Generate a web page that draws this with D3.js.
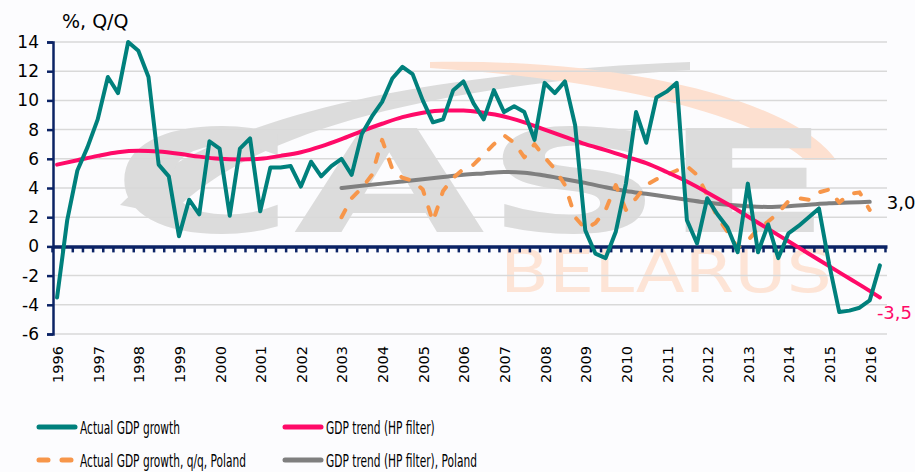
<!DOCTYPE html>
<html>
<head>
<meta charset="utf-8">
<script src="https://cdn.jsdelivr.net/npm/d3@7"></script>
<style>
  html, body { margin: 0; padding: 0; background: #fcfcfe; }
  svg { display: block; font-family: "DejaVu Sans", Verdana, sans-serif; }
</style>
</head>
<body>
<div id="chart"></div>
<script>
// Belarus quarterly GDP growth (1996Q1 .. 2016Q2), index = quarter number
const gdpActual = [
  -3.5, 1.8, 5.2, 6.8, 8.7, 11.6, 10.5, 14.0, 13.4, 11.6,
  5.6, 4.8, 0.7, 3.2, 2.2, 7.2, 6.7, 2.1, 6.7, 7.4,
  2.4, 5.4, 5.4, 5.5, 4.1, 5.8, 4.8, 5.5, 6.0, 4.9,
  7.7, 8.9, 9.9, 11.5, 12.3, 11.8, 10.0, 8.5, 8.7, 10.7,
  11.3, 9.8, 8.7, 10.7, 9.2, 9.6, 9.2, 7.3, 11.2, 10.5,
  11.3, 8.3, 1.1, -0.5, -0.8, 1.0, 4.3, 9.2, 7.1, 10.2,
  10.6, 11.2, 1.8, 0.2, 3.3, 2.2, 1.3, -0.4, 4.3, -0.4,
  1.5, -0.8, 0.9, 1.4, 2.0, 2.6, -1.2, -4.5, -4.4, -4.2,
  -3.7, -1.3
];

// HP trend, Belarus (read every second quarter)
const trendQuarters = [0, 2, 4, 6, 8, 10, 12, 14, 16, 18, 20, 22, 24, 26, 28, 30, 32, 34, 36, 38,
  40, 42, 44, 46, 48, 50, 52, 54, 56, 58, 60, 62, 64, 66, 68, 70, 72, 74, 76, 78, 80, 81];
const gdpTrend = [5.6, 5.9, 6.2, 6.45, 6.55, 6.5, 6.35, 6.15, 6.0, 5.95, 6.0, 6.2, 6.45, 6.85,
  7.35, 7.9, 8.4, 8.85, 9.15, 9.3, 9.3, 9.15, 8.9, 8.5, 8.0, 7.5, 7.0, 6.6, 6.15, 5.7,
  5.1, 4.45, 3.7, 2.9, 2.05, 1.2, 0.35, -0.5, -1.35, -2.2, -3.05, -3.5];

// Poland q/q growth, 2003Q1 (quarter 28) .. 2016Q1 (quarter 80)
const polandStart = 28;
const polandActual = [
  2.0, 3.3, 4.0, 4.9, 7.3, 5.3, 4.7, 4.5, 3.9, 1.7,
  3.8, 4.7, 5.3, 5.6, 6.3, 7.0, 7.6, 7.1, 6.1, 7.0,
  6.1, 5.3, 4.2, 2.0, 1.2, 1.6, 2.5, 4.2, 2.5, 3.3,
  4.2, 4.6, 4.9, 5.2, 5.5, 4.9, 3.5, 2.0, 1.0, -0.1,
  0.4, 1.2, 1.7, 2.3, 3.1, 3.3, 3.2, 3.7, 3.9, 3.0,
  3.6, 3.7, 2.5
];

// HP trend, Poland (every second quarter from 28 to 80)
const polandTrendQuarters = [28, 30, 32, 34, 36, 38, 40, 42, 44, 46, 48, 50, 52, 54, 56, 58,
  60, 62, 64, 66, 68, 70, 72, 74, 76, 78, 80];
const polandTrend = [4.0, 4.15, 4.3, 4.45, 4.6, 4.75, 4.9, 5.0, 5.1, 5.05, 4.85, 4.6, 4.35,
  4.05, 3.8, 3.6, 3.4, 3.2, 3.0, 2.85, 2.75, 2.7, 2.75, 2.85, 2.95, 3.0, 3.05];

const years = d3.range(1996, 2017);
const yTicks = [-6, -4, -2, 0, 2, 4, 6, 8, 10, 12, 14];

const legendItems = [
  { label: 'Actual GDP growth', color: '#00807c', dash: null },
  { label: 'GDP trend (HP filter)', color: '#ff0a68', dash: null },
  { label: 'Actual GDP growth, q/q, Poland', color: '#f7964a', dash: '8 14' },
  { label: 'GDP trend (HP filter), Poland', color: '#7f7f7f', dash: null }
];

const width = 915, height = 472;

const x = d3.scaleLinear().domain([-0.4, 81.7]).range([53, 887]);
const y = d3.scaleLinear().domain([-6, 14]).range([334, 42]);

const svg = d3.select('#chart')
  .append('svg')
  .attr('width', width)
  .attr('height', height);

// watermark (CASE Belarus logo)
const wm = svg.append('g').attr('class', 'watermark');
wm.append('path')
  .attr('d', 'M120,205 C210,115 430,72 690,62 L690,70 C460,84 260,122 170,215 Z')
  .attr('fill', '#dcdcdc');
wm.append('path')
  .attr('d', 'M430,62 C610,58 790,96 836,160 L805,160 C755,116 620,80 430,68 Z')
  .attr('fill', '#fde0d0');
wm.append('text')
  .attr('x', 112).attr('y', 232)
  .attr('textLength', 720)
  .attr('lengthAdjust', 'spacingAndGlyphs')
  .attr('font-size', 142)
  .attr('font-weight', 'bold')
  .attr('fill', '#dcdcdc')
  .text('CASE');
wm.append('text')
  .attr('x', 500).attr('y', 292)
  .attr('textLength', 332)
  .attr('lengthAdjust', 'spacingAndGlyphs')
  .attr('font-size', 58)
  .attr('fill', '#fde4d6')
  .text('BELARUS');

// gridlines
svg.append('g')
  .selectAll('line')
  .data(yTicks.filter(d => d !== 0))
  .join('line')
  .attr('x1', 53).attr('x2', 887)
  .attr('y1', d => y(d)).attr('y2', d => y(d))
  .attr('stroke', '#d9d9d9')
  .attr('stroke-width', 1.5);

// y axis
const yAxis = svg.append('g')
  .attr('transform', 'translate(53,0)')
  .call(d3.axisLeft(y).tickValues(yTicks).tickSize(6).tickPadding(8).tickFormat(d3.format('d')));
yAxis.select('.domain').attr('stroke', '#0b2365').attr('stroke-width', 2.5);
yAxis.selectAll('.tick line').attr('stroke', '#0b2365').attr('stroke-width', 2.5);
yAxis.selectAll('.tick text')
  .attr('font-size', 17)
  .attr('font-family', '"DejaVu Sans", sans-serif')
  .attr('fill', '#000')
  .text(d => d < 0 ? '-' + Math.abs(d) : d);

// zero line with quarter ticks
const xAxis = svg.append('g')
  .attr('transform', `translate(0,${y(0)})`)
  .call(d3.axisBottom(x).tickValues(d3.range(-0.5, 82, 1)).tickSize(6).tickSizeOuter(0).tickFormat(''));
xAxis.select('.domain').attr('stroke', '#0b2365').attr('stroke-width', 3.5);
xAxis.selectAll('.tick line').attr('stroke', '#0b2365').attr('stroke-width', 2.5);

// year labels
svg.append('g')
  .selectAll('text')
  .data(years)
  .join('text')
  .attr('transform', d => `translate(${x((d - 1996) * 4) + 6},346) rotate(-90)`)
  .attr('text-anchor', 'end')
  .attr('font-size', 14.5)
  .text(d => d);

// axis title
svg.append('text')
  .attr('x', 62).attr('y', 28)
  .attr('font-size', 19)
  .text('%, Q/Q');

// series
const lineQ = d3.line().x(d => x(d[0])).y(d => y(d[1]));
const smooth = d3.line().x(d => x(d[0])).y(d => y(d[1])).curve(d3.curveMonotoneX);

const series = [
  { pts: polandTrendQuarters.map((q, i) => [q, polandTrend[i]]), gen: smooth, item: legendItems[3] },
  { pts: polandActual.map((v, i) => [polandStart + i, v]), gen: lineQ, item: legendItems[2] },
  { pts: trendQuarters.map((q, i) => [q, gdpTrend[i]]), gen: smooth, item: legendItems[1] },
  { pts: gdpActual.map((v, i) => [i, v]), gen: lineQ, item: legendItems[0] }
];

svg.append('g')
  .selectAll('path')
  .data(series)
  .join('path')
  .attr('d', d => d.gen(d.pts))
  .attr('fill', 'none')
  .attr('stroke', d => d.item.color)
  .attr('stroke-width', 4)
  .attr('stroke-linejoin', 'round')
  .attr('stroke-linecap', 'round')
  .attr('stroke-dasharray', d => d.item.dash);

// end labels
svg.append('text')
  .attr('x', x(polandTrendQuarters[polandTrendQuarters.length - 1]) + 17)
  .attr('y', y(polandTrend[polandTrend.length - 1]) + 7)
  .attr('font-size', 18)
  .attr('fill', '#000')
  .text('3,0');
svg.append('text')
  .attr('x', x(trendQuarters[trendQuarters.length - 1]) - 3)
  .attr('y', y(gdpTrend[gdpTrend.length - 1]) + 21)
  .attr('font-size', 18)
  .attr('fill', '#ff0a68')
  .text('-3,5');

// legend
const legend = svg.append('g')
  .selectAll('g')
  .data(legendItems)
  .join('g')
  .attr('transform', (d, i) => `translate(${i % 2 === 0 ? 37 : 283},${i < 2 ? 427 : 460})`);

legend.append('line')
  .attr('x1', 2).attr('x2', 38)
  .attr('stroke', d => d.color)
  .attr('stroke-width', 5)
  .attr('stroke-linecap', 'round')
  .attr('stroke-dasharray', d => d.dash ? '9 14' : null);

const legendText = legend.append('text')
  .attr('font-family', '"DejaVu Sans", sans-serif')
  .attr('font-size', 18.5)
  .text(d => d.label);

// the original legend font is very narrow: squeeze so the first label is ~100px wide
const squeeze = 100 / legendText.node().getComputedTextLength();
legendText.attr('transform', `translate(43,7) scale(${squeeze},1)`);
</script>
</body>
</html>
